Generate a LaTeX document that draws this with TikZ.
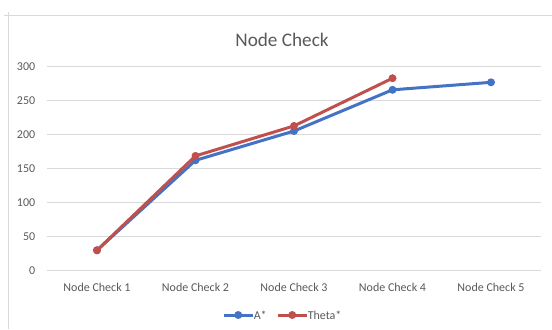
\documentclass[tikz,border=0pt]{standalone}
\usepackage{fontspec}
\setmainfont{Carlito}
\usetikzlibrary{calc}
\definecolor{gridgray}{RGB}{217,217,217}
\definecolor{txtgray}{RGB}{89,89,89}
\definecolor{astarblue}{RGB}{68,114,196}
\definecolor{thetared}{RGB}{192,80,77}
\tikzset{
  gridline/.style={draw=gridgray, line width=0.75pt},
  axislabel/.style={text=txtgray, font=\fontsize{9}{10}\selectfont, inner sep=0.75pt},
  serieslinea/.style={draw=astarblue, line width=2.25pt, line join=round},
  serieslinet/.style={draw=thetared, line width=2.25pt, line join=round},
}
\begin{document}
\begin{tikzpicture}[x=0.75pt,y=0.75pt,yscale=-1,xscale=1]
\useasboundingbox (0,0) rectangle (552,329);

%chart frame
\draw [gridline] (4,15) -- (552,15) ;
\draw [gridline] (8,12) -- (8,329) ;

% Title
\node (title) at (282,40) [text=txtgray, font=\fontsize{14.4}{16}\selectfont] {Node Check};

%Grid lines and values
\foreach \v in {0,50,...,300} {
  \coordinate (gl\v) at (47,{270.7-0.6813*\v}) ;
  \coordinate (gr\v) at (541,{270.7-0.6813*\v}) ;
  \draw [gridline] (gl\v) -- (gr\v) ;
  \node (y\v) [axislabel, anchor=east] at (36.5,{270.7-0.6813*\v}) {\v};
}

%Categories
\foreach \i in {1,...,5} {
  \node (c\i) [axislabel] at ({97+98.5*(\i-1)},287.3) {Node Check \i};
}

%Series A*
\foreach \i/\v in {1/30,2/162,3/205,4/265.5,5/276.5} {
  \coordinate (a\i) at ({97+98.5*(\i-1)},{270.7-0.6813*\v}) ;
}
\draw [serieslinea] (a1) -- (a2) -- (a3) -- (a4) -- (a5) ;
\foreach \i in {1,...,5} { \fill [astarblue] (a\i) circle (4) ; }

%Series Theta*
\foreach \i/\v in {1/30,2/168.5,3/212.5,4/282.5} {
  \coordinate (t\i) at ({97+98.5*(\i-1)},{270.7-0.6813*\v}) ;
}
\draw [serieslinet] (t1) -- (t2) -- (t3) -- (t4) ;
\foreach \i in {1,...,4} { \fill [thetared] (t\i) circle (4) ; }

%Legend
\coordinate (lga1) at (224,315) ;
\coordinate (lga2) at (252.5,315) ;
\draw [serieslinea] (lga1) -- (lga2) ;
\fill [astarblue] ($(lga1)!0.5!(lga2)$) circle (4) ;
\node (lega) [axislabel, anchor=west] at (lga2) {A*};

\coordinate (lgt1) at (278,315) ;
\coordinate (lgt2) at (306.5,315) ;
\draw [serieslinet] (lgt1) -- (lgt2) ;
\fill [thetared] ($(lgt1)!0.5!(lgt2)$) circle (4) ;
\node (legt) [axislabel, anchor=west] at (lgt2) {Theta*};

\end{tikzpicture}
\end{document}
